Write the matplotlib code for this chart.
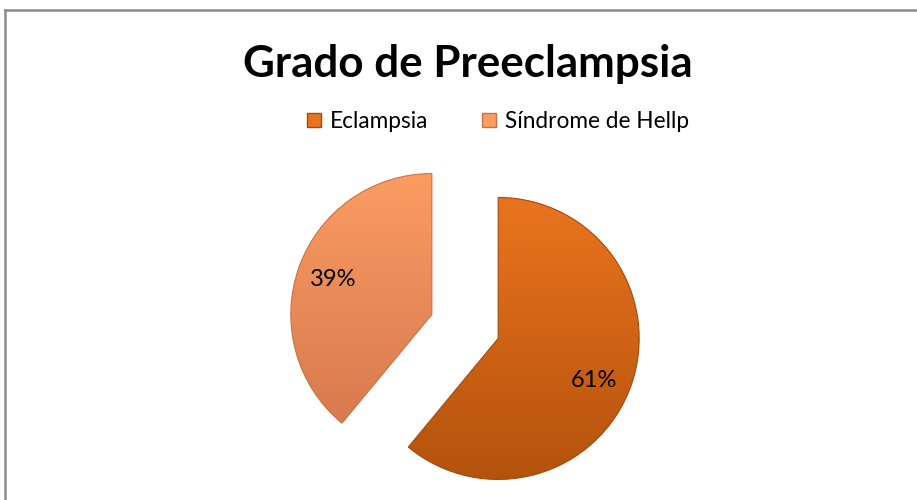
import matplotlib
matplotlib.use("Agg")
import matplotlib.pyplot as plt
import numpy as np
from matplotlib.lines import Line2D
from matplotlib.colors import LinearSegmentedColormap

plt.rcParams['font.family'] = ['Lato', 'DejaVu Sans']

title = "Grado de Preeclampsia"
categories = ["Eclampsia", "Síndrome de Hellp"]
values = [61, 39]
pct_labels = ["61%", "39%"]

W, H = 917, 500
fig = plt.figure(figsize=(W / 100, H / 100), dpi=100)
fig.patch.set_facecolor("white")

# frame lines (top and left)
fig.add_artist(Line2D([4.5 / W, 1.0], [1 - 9.5 / H, 1 - 9.5 / H], color="#8c8c8c", lw=1.8))
fig.add_artist(Line2D([4.5 / W, 4.5 / W], [0, 1 - 9.5 / H], color="#8c8c8c", lw=1.8))

cx, cy, R = 465, 500 - 326.5, 141
half = 200
ax = fig.add_axes([(cx - half) / W, (cy - half) / H, 2 * half / W, 2 * half / H])

wedges, texts = ax.pie(values, startangle=90, counterclock=False, explode=[0.25, 0.25],
                       radius=1.0, center=(0, 0),
                       wedgeprops=dict(linewidth=0))
ax.set_aspect("equal")
ax.axis("off")

base = [("#EA741E", "#B4520C"), ("#FB9C62", "#D77A4E")]
edge = ["#a24a0a", "#cc7044"]
for w, (top, bot), ec in zip(wedges, base, edge):
    w.set_facecolor("none")
    verts = w.get_path().vertices
    x0, x1 = verts[:, 0].min(), verts[:, 0].max()
    y0, y1 = verts[:, 1].min(), verts[:, 1].max()
    cmap = LinearSegmentedColormap.from_list("g", [bot, top])
    grad = np.linspace(0, 1, 256).reshape(-1, 1)
    im = ax.imshow(grad, cmap=cmap, extent=[x0, x1, y0, y1], origin="lower",
                   aspect="auto", zorder=1, interpolation="bilinear")
    im.set_clip_path(w)
    w.set_edgecolor(ec)
    w.set_linewidth(0.8)
    w.set_zorder(2)
ax.set_xlim(-half / R, half / R)
ax.set_ylim(-half / R, half / R)

# percentage labels
label_shift = [-4, 0]  # small angular nudge (degrees) to match label placement
for w, pl, s in zip(wedges, pct_labels, label_shift):
    theta = np.deg2rad((w.theta1 + w.theta2) / 2 + s)
    c = w.center
    ax.text(c[0] + 0.74 * np.cos(theta), c[1] + 0.74 * np.sin(theta), pl,
            ha="center", va="center", fontsize=17, color="black", zorder=5)

fig.text(468 / W, 1 - 64 / H, title, ha="center", va="center",
         fontsize=31.7, fontweight="bold", color="black")

handles = [Line2D([], [], marker="s", linestyle="none", markersize=10,
                  markerfacecolor=c[0], markeredgecolor=e)
           for c, e in zip(base, edge)]
fig.legend(handles, categories, loc="center", bbox_to_anchor=(497 / W, 1 - 121 / H),
           ncol=2, frameon=False, fontsize=16.3, handlelength=0.8, handletextpad=0.3,
           columnspacing=2.3)

fig.savefig("out.png", dpi=100, facecolor="white")
